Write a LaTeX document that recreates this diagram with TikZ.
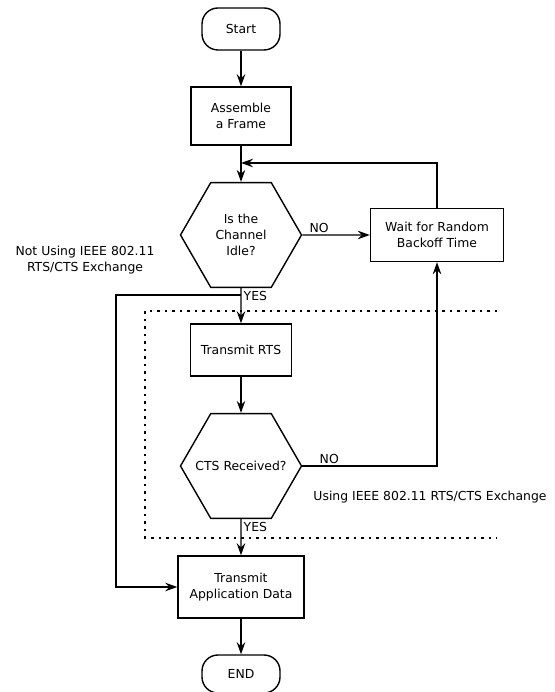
\documentclass[tikz,border=0pt]{standalone}
\usepackage{fontspec}
\setmainfont{DejaVu Sans}
\usetikzlibrary{shapes.geometric,arrows.meta}

\begin{document}
\begin{tikzpicture}[x=1pt,y=1pt,line width=1.4pt,
    font=\fontsize{12.4}{16}\selectfont,
    >={Stealth[length=12pt,width=8.5pt,inset=4pt]}]

      \useasboundingbox (0,0) rectangle (554,692);

      \begin{scope}[every node/.style={draw,rounded corners=16pt,minimum width=78pt,minimum height=42pt}]
        \node (start) at (241,663) {Start};
        \node[minimum height=38pt] (end) at (241,18) {END};
      \end{scope}

      \begin{scope}[every node/.style={draw,align=center,inner sep=0pt}]
        \node[minimum width=100pt,minimum height=58pt] (assemble) at (241,576) {Assemble\\a Frame};
        \node[minimum width=133pt,minimum height=53pt] (wait)     at (437,457) {Wait for Random\\Backoff Time};
        \node[minimum width=101pt,minimum height=52pt] (rts)      at (241,342) {Transmit RTS};
        \node[minimum width=126pt,minimum height=62pt] (data)     at (241,105) {Transmit\\Application Data};
      \end{scope}

      \begin{scope}[every node/.style={draw,regular polygon,regular polygon sides=6,minimum size=121pt,inner sep=-15pt,align=center}]
        \node (idle) at (241,457) {Is the\\Channel\\Idle?};
        \node (cts)  at (241,226) {CTS Received?};
      \end{scope}

      \coordinate (join)   at (241,529);
      \coordinate (split)  at (241,397);
      \coordinate (bypass) at (116,397);

      \begin{scope}[every node/.style={inner sep=2pt}]

        \begin{scope}[every edge/.style={draw,->}]
          \path (start)    edge (assemble);
          \path (assemble) edge (idle);
          \path (idle.east) edge node[near start,above] {NO} (wait.west);
          \path (idle)     edge node[pos=0.22,right] {YES} (rts);
          \path (rts)      edge (cts);
          \path (cts)      edge node[pos=0.22,right] {YES} (data);
          \path (data)     edge (end);
        \end{scope}

        \draw[->] (wait.north) |- (join);
        \draw[->] (cts.east) -| node[pos=0.1,above] {NO} (wait.south);
        \draw[->] (split) -- (bypass) |- (data.west);

      \end{scope}

      \draw[dash pattern=on 2.5pt off 5pt] (497,381) -- (145,381) -- (145,154) -- (497,154);

      \node[align=center] (notusing) at (85,432) {Not Using IEEE 802.11\\RTS/CTS Exchange};
      \node (using) at (430,195) {Using IEEE 802.11 RTS/CTS Exchange};

    \end{tikzpicture}
\end{document}
